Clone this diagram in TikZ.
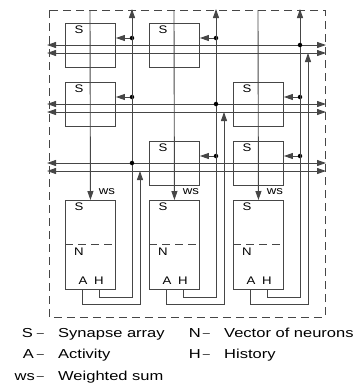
\documentclass[tikz,border=0pt]{standalone}
\usepackage{fontspec}
\setmainfont[FakeStretch=1.2]{Liberation Sans}
\newfontfamily\keyfont[FakeStretch=1.27]{Liberation Sans}
\usepackage{tikz}
\usetikzlibrary{arrows.meta}
\definecolor{wiregray}{RGB}{70,70,70}

\begin{document}
\begin{tikzpicture}[x=1pt, y=-1pt,
  sbox/.style={draw=wiregray, line width=0.9pt, minimum width=50pt, minimum height=44pt, anchor=north west, inner sep=0pt},
  cell/.style={sbox, minimum height=89pt},
  wire/.style={draw=wiregray, line width=0.9pt},
  tip/.style={wire, -{Triangle[length=9pt,width=6pt]}},
  bus/.style={wire, {Triangle[length=9pt,width=6pt]}-{Triangle[length=9pt,width=6pt]}},
  dot/.style={circle, fill=black, inner sep=0pt, minimum size=4.5pt},
  lab/.style={font=\fontsize{11}{12}\selectfont, inner sep=0pt},
  key/.style={font=\keyfont\fontsize{13}{15}\selectfont, inner sep=0pt},
  dash sign/.style={font=\keyfont\fontsize{10}{12}\selectfont, inner sep=0pt, anchor=base}]
\useasboundingbox (0,0) rectangle (357,384);

% outer frame
\draw[wiregray, line width=0.9pt, dash pattern=on 8pt off 5pt] (49,10) rectangle (325,317);

% buses
\foreach \u in {45,104,163} {
  \draw[bus] (47,\u) -- (326,\u);
  \draw[bus] (47,\u+8) -- (326,\u+8);
}

% synapse arrays
\foreach \x/\y/\n in {65/23/11, 149/23/12, 65/82/21, 233/82/23, 149/141/32, 233/141/33} {
  \node[sbox] (s\n) at (\x,\y) {};
  \node[lab] (ls\n) at (\x+14,\y+7) {S};
  \node[dot] (d\n) at (\x+67,\y+15) {};
  \draw[tip] (d\n) -- (d\n -| s\n.east);
}

% neuron cells and their wiring
\foreach \x/\c/\u in {65/1/163, 149/2/104, 233/3/45} {
  \node[cell] (n\c) at (\x,200) {};
  \draw[wire, dash pattern=on 8pt off 5pt] (\x,244) -- (\x+50,244);
  \node[lab] (ns\c) at (\x+14,207) {S};
  \node[lab] (nn\c) at (\x+14,252) {N};
  \node[lab] (na\c) at (\x+18,281) {A};
  \node[lab] (nh\c) at (\x+34,281) {H};
  % weighted sum
  \coordinate (top\c) at (\x+25,10);
  \draw[tip] (top\c) -- (n\c.north);
  \node[lab] (ws\c) at (\x+42,192) {ws};
  % history
  \coordinate (h\c) at (\x+34,289);
  \coordinate (hup\c) at (\x+67,9);
  \draw[tip] (h\c) -- ++(0,8) -| (hup\c);
  \node[dot] (hb\c) at (\x+67,\u) {};
  % activity
  \coordinate (a\c) at (\x+17,289);
  \coordinate (aup\c) at (\x+75,\u+8);
  \draw[tip] (a\c) -- ++(0,15) -| (aup\c);
}

% legend
\node[key, anchor=base east] (kS) at (33,337) {S};
\node[dash sign] (dS) at (40.5,336) {–};
\node[key, anchor=base west] (tS) at (58,337) {Synapse array};
\node[key, anchor=base east] (kA) at (34,358) {A};
\node[dash sign] (dA) at (40.5,357) {–};
\node[key, anchor=base west] (tA) at (58,358) {Activity};
\node[key, anchor=base east] (kw) at (35,380) {ws};
\node[dash sign] (dw) at (40.5,379) {–};
\node[key, anchor=base west] (tw) at (58,380) {Weighted sum};
\node[key, anchor=base east] (kN) at (201,337) {N};
\node[dash sign] (dN) at (206.5,336) {–};
\node[key, anchor=base west] (tN) at (224,337) {Vector of neurons};
\node[key, anchor=base east] (kH) at (201,358) {H};
\node[dash sign] (dH) at (206.5,357) {–};
\node[key, anchor=base west] (tH) at (224,358) {History};
\end{tikzpicture}
\end{document}
